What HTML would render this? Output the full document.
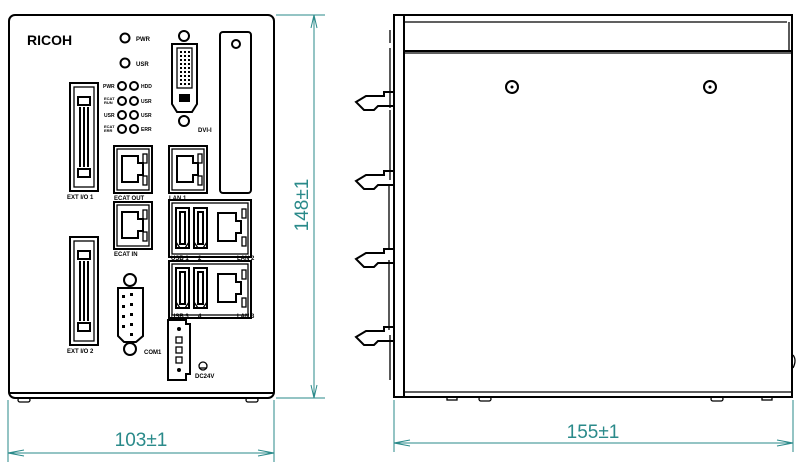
<!DOCTYPE html>
<html><head><meta charset="utf-8"><style>
html,body{margin:0;padding:0;background:#fff;}
svg{display:block}
text{font-family:"Liberation Sans",sans-serif;}
.s{fill:none;stroke:#000;stroke-width:2}
.t{fill:none;stroke:#000;stroke-width:1.3}
.d{fill:none;stroke:#2a8a8a;stroke-width:1}
.lab{font-size:6px;font-weight:bold;fill:#000}
</style></head><body>
<svg width="810" height="472" viewBox="0 0 810 472" xmlns="http://www.w3.org/2000/svg">
<defs>
<g id="rj">
 <rect x="0" y="0" width="38" height="47" class="s" stroke-width="2.5"/>
 <rect x="3" y="3" width="32" height="41" class="t"/>
 <path d="M8 10 H24 V17 H29 V29 H24 V36 H8 Z" class="s"/>
 <rect x="29" y="8" width="4" height="9" class="t" fill="#fff"/>
 <rect x="29" y="30" width="4" height="9" class="t"/>
</g>
<g id="rjs">
 <path d="M0 6 H18 V14 H23 V26 H18 V34 H0 Z" class="s" stroke-width="2.2"/>
 <rect x="24" y="2" width="4" height="9" class="t"/>
 <rect x="24" y="30" width="4" height="9" class="t"/>
</g>
<g id="usb">
 <rect x="0" y="0" width="13" height="40" class="s"/>
 <rect x="4" y="4" width="5" height="32" class="s" stroke-width="1.5"/>
 <path d="M0 34 L4 40 M13 34 L9 40" class="t"/>
</g>
<g id="eio">
 <rect x="0" y="0" width="28" height="108" class="s" stroke-width="2.5"/>
 <rect x="4" y="4" width="20" height="100" class="t"/>
 <rect x="8" y="14" width="12" height="8" class="s"/>
 <rect x="8" y="86" width="12" height="8" class="s"/>
 <line x1="10" y1="24" x2="10" y2="84" class="s"/>
 <line x1="14" y1="24" x2="14" y2="84" class="s"/>
 <line x1="18" y1="24" x2="18" y2="84" class="s"/>
</g>
<g id="clip">
 <path d="M0 6 L10 0 H28 V-4 H38 V10 H22 L18 14 H8 Z" class="s" stroke-width="1.6"/>
</g>
</defs>

<rect x="9" y="15" width="265" height="383" rx="6" class="s" stroke-width="3"/>
<line x1="9" y1="393" x2="274" y2="393" stroke="#000" stroke-width="2"/>
<rect x="18" y="398" width="12" height="4" rx="2" class="t"/>
<rect x="246" y="398" width="12" height="4" rx="2" class="t"/>
<text x="27" y="45" font-size="14" font-weight="bold">RICOH</text>
<circle cx="125" cy="38" r="4.5" class="s" stroke-width="2.5"/><text x="136" y="41" class="lab">PWR</text>
<circle cx="125" cy="63" r="4.5" class="s" stroke-width="2.5"/><text x="136" y="66" class="lab">USR</text>
<g>
 <circle cx="122" cy="86" r="4" class="s"/><circle cx="134" cy="86" r="4" class="s"/>
 <circle cx="122" cy="101" r="4" class="s"/><circle cx="134" cy="101" r="4" class="s"/>
 <circle cx="122" cy="115" r="4" class="s"/><circle cx="134" cy="115" r="4" class="s"/>
 <circle cx="122" cy="129" r="4" class="s"/><circle cx="134" cy="129" r="4" class="s"/>
 <text x="103" y="88" font-size="5" font-weight="bold">PWR</text><text x="141" y="88" font-size="5" font-weight="bold">HDD</text>
 <text x="104" y="100" font-size="4" font-weight="bold">ECAT</text><text x="104" y="104" font-size="4" font-weight="bold">RUN</text><text x="141" y="103" font-size="5" font-weight="bold">USR</text>
 <text x="104" y="117" font-size="5" font-weight="bold">USR</text><text x="141" y="117" font-size="5" font-weight="bold">USR</text>
 <text x="104" y="128" font-size="4" font-weight="bold">ECAT</text><text x="104" y="132" font-size="4" font-weight="bold">ERR</text><text x="141" y="131" font-size="5" font-weight="bold">ERR</text>
</g>
<circle cx="184" cy="36" r="5" class="s" stroke-width="2.5"/>
<circle cx="184" cy="121" r="5" class="s" stroke-width="2.5"/>
<path d="M172 44 H197 V104 L192 112 H177 L172 104 Z" class="s" stroke-width="2.5"/>
<rect x="177" y="48" width="15" height="40" class="t" stroke-width="1.5"/>
<g stroke="#000" stroke-width="2" stroke-dasharray="2 2"><line x1="181" y1="51" x2="181" y2="86"/><line x1="185" y1="51" x2="185" y2="86"/><line x1="189" y1="51" x2="189" y2="86"/></g>
<rect x="179" y="94" width="11" height="8" fill="#000"/>
<text x="198" y="132" class="lab">DVI-I</text>
<rect x="220" y="32" width="31" height="161" rx="3" class="s"/>
<circle cx="236" cy="44" r="4" class="s" stroke-width="2.5"/>
<use href="#eio" x="70" y="83"/>
<text x="67" y="199" class="lab">EXT I/O 1</text>
<use href="#eio" x="70" y="237"/>
<text x="67" y="353" class="lab">EXT I/O 2</text>
<use href="#rj" x="114" y="146"/>
<text x="114" y="200" class="lab">ECAT OUT</text>
<use href="#rj" x="169" y="146"/>
<text x="169" y="200" class="lab">LAN 1</text>
<use href="#rj" x="114" y="202"/>
<text x="114" y="256" class="lab">ECAT IN</text>
<rect x="169" y="200" width="82" height="57" class="s" stroke-width="2.5"/>
<rect x="172" y="203" width="76" height="51" class="t" stroke-width="1"/>
<use href="#usb" x="176" y="208"/><use href="#usb" x="194" y="208"/>
<use href="#rjs" x="218" y="207"/>
<text x="171" y="260" class="lab">USB 1</text><text x="198" y="260" class="lab">2</text><text x="237" y="260" class="lab">LAN 2</text>
<rect x="169" y="261" width="82" height="57" class="s" stroke-width="2.5"/>
<rect x="172" y="264" width="76" height="51" class="t" stroke-width="1"/>
<use href="#usb" x="176" y="268"/><use href="#usb" x="194" y="268"/>
<use href="#rjs" x="218" y="268"/>
<text x="171" y="318" class="lab">USB 3</text><text x="198" y="318" class="lab">4</text><text x="237" y="318" class="lab">LAN 3</text>
<circle cx="130" cy="280" r="6" class="s" stroke-width="2.5"/>
<circle cx="130" cy="349" r="6" class="s" stroke-width="2.5"/>
<path d="M118 288 H143 V336 L136 342 H124 L118 336 Z" class="s" stroke-width="2.5"/>
<g fill="#000"><rect x="122" y="295" width="3" height="3"/><rect x="130" y="293" width="3" height="3"/><rect x="122" y="305" width="3" height="3"/><rect x="130" y="303" width="3" height="3"/><rect x="122" y="315" width="3" height="3"/><rect x="130" y="313" width="3" height="3"/><rect x="122" y="325" width="3" height="3"/><rect x="130" y="323" width="3" height="3"/><rect x="130" y="333" width="3" height="3"/></g>
<text x="144" y="354" class="lab">COM1</text>
<path d="M168 320 H186 V324 H190 V374 H186 V380 H168 Z" class="s" stroke-width="2.5"/>
<circle cx="179" cy="329" r="2" fill="#000"/><rect x="176" y="337" width="6" height="6" class="t"/><rect x="176" y="347" width="6" height="6" class="t"/><rect x="176" y="357" width="6" height="6" class="t"/><circle cx="179" cy="370" r="2" fill="#000"/>
<circle cx="203" cy="366" r="4" class="t"/><line x1="199" y1="368" x2="207" y2="368" class="t"/>
<text x="195" y="378" class="lab">DC24V</text>

<line x1="276" y1="15" x2="325" y2="15" class="d"/>
<line x1="276" y1="398" x2="325" y2="398" class="d"/>
<line x1="314" y1="15" x2="314" y2="398" class="d"/>
<path d="M311 28 L314 15 L317 28 M311 385 L314 398 L317 385" class="d"/>
<text transform="translate(308,205) rotate(-90)" text-anchor="middle" font-size="19" fill="#2a8a8a">148±1</text>
<line x1="8" y1="400" x2="8" y2="462" class="d"/>
<line x1="274" y1="400" x2="274" y2="462" class="d"/>
<line x1="8" y1="453" x2="274" y2="453" class="d"/>
<path d="M24 450 L8 453 L24 456 M258 450 L274 453 L258 456" class="d"/>
<text x="141" y="446" text-anchor="middle" font-size="19" fill="#2a8a8a">103±1</text>

<rect x="394" y="15" width="10" height="382" class="s" stroke-width="2"/>
<rect x="404" y="15" width="388" height="382" class="s" stroke-width="2.5"/>
<line x1="404" y1="22" x2="787" y2="22" class="t"/>
<line x1="404" y1="51" x2="792" y2="51" class="s" stroke-width="2"/>
<line x1="404" y1="53" x2="792" y2="53" class="t"/>
<line x1="404" y1="392" x2="792" y2="392" class="t"/>
<line x1="789" y1="22" x2="789" y2="51" class="t"/>
<circle cx="512" cy="87" r="6" class="s"/><circle cx="512" cy="87" r="1.5" fill="#000"/>
<circle cx="710" cy="87" r="6" class="s"/><circle cx="710" cy="87" r="1.5" fill="#000"/>
<path d="M390 30 V43 M390 48 V108 M390 110 V180 M389 185 V250 M389 260 V330 M390 335 V380" class="t"/>
<use href="#clip" x="356" y="96"/>
<use href="#clip" x="356" y="175"/>
<use href="#clip" x="356" y="253"/>
<use href="#clip" x="356" y="331"/>
<rect x="447" y="397" width="10" height="3" class="t"/>
<rect x="479" y="397" width="12" height="4" rx="2" class="t"/>
<rect x="711" y="397" width="12" height="4" rx="2" class="t"/>
<rect x="762" y="397" width="10" height="3" class="t"/>
<path d="M793 355 Q797 360 793 368" class="t"/>
<line x1="394" y1="400" x2="394" y2="452" class="d"/>
<line x1="793" y1="400" x2="793" y2="452" class="d"/>
<line x1="394" y1="443" x2="793" y2="443" class="d"/>
<path d="M410 440 L394 443 L410 446 M777 440 L793 443 L777 446" class="d"/>
<text x="593" y="438" text-anchor="middle" font-size="19" fill="#2a8a8a">155±1</text>
</svg>
</body></html>
